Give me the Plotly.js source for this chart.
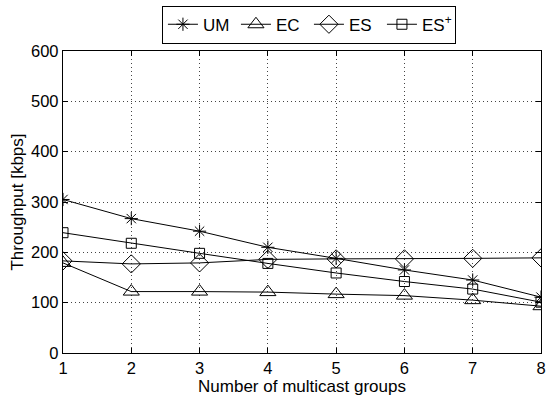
<!DOCTYPE html>
<html>
<head>
<meta charset="utf-8">
<script src="https://cdn.plot.ly/plotly-3.0.1.min.js"></script>
<style>html,body{margin:0;padding:0;background:#fff;}#chart{width:547px;height:398px;}</style>
</head>
<body>
<div id="chart"></div>
<script>
var groups = [1, 2, 3, 4, 5, 6, 7, 8];
var umValues = [305, 267, 242, 210, 188, 165, 145, 111];
var ecValues = [179, 122, 122, 121, 117, 114, 105, 93];
var esValues = [183, 177, 179, 186, 187, 187, 188, 189];
var esPlusValues = [239, 218, 198, 178, 159, 142, 127, 101];
var seriesNames = ['UM', 'EC', 'ES', 'ES<sup>+</sup>'];

function mk(name, y, symbol, size) {
  return {
    x: groups, y: y, name: name, type: 'scatter', mode: 'lines+markers',
    line: {color: '#000', width: 1},
    marker: {symbol: symbol, size: size, color: '#000', line: {color: '#000', width: 1}}
  };
}
var data = [
  mk(seriesNames[0], umValues, 'asterisk-open', 11),
  mk(seriesNames[1], ecValues, 'triangle-up-open', 14),
  mk(seriesNames[2], esValues, 'diamond-open', 14),
  mk(seriesNames[3], esPlusValues, 'square-open', 10)
];
var font = {family: 'Liberation Sans, Arial, sans-serif', color: '#000', size: 16.5};
var titleFont = {family: font.family, color: '#000', size: 17};
var axisCommon = {
  showline: true, linecolor: '#000', linewidth: 1.2, mirror: 'ticks',
  ticks: 'inside', ticklen: 5, tickcolor: '#000',
  showgrid: true, gridcolor: '#444', griddash: '1px,3px', gridwidth: 1,
  zeroline: false, tickfont: font
};
var layout = {
  width: 547, height: 398,
  margin: {l: 63, r: 6, t: 51, b: 45},
  paper_bgcolor: '#fff', plot_bgcolor: '#fff',
  font: font,
  showlegend: true,
  legend: {
    orientation: 'h', x: 0.207, xanchor: 'left', y: 1.15, yanchor: 'top',
    bordercolor: '#000', borderwidth: 1, bgcolor: '#fff',
    font: {family: font.family, size: 17, color: '#000'},
    entrywidth: 28, entrywidthmode: 'pixels', itemwidth: 30, tracegroupgap: 0
  },
  xaxis: Object.assign({}, axisCommon, {
    range: [1, 8], tickvals: groups,
    title: {text: 'Number of multicast groups', font: titleFont, standoff: 0}
  }),
  yaxis: Object.assign({}, axisCommon, {
    range: [0, 600], dtick: 100,
    title: {text: 'Throughput [kbps]', font: titleFont, standoff: 3}
  })
};
Plotly.newPlot('chart', data, layout, {displayModeBar: false, staticPlot: true});
</script>
</body>
</html>
